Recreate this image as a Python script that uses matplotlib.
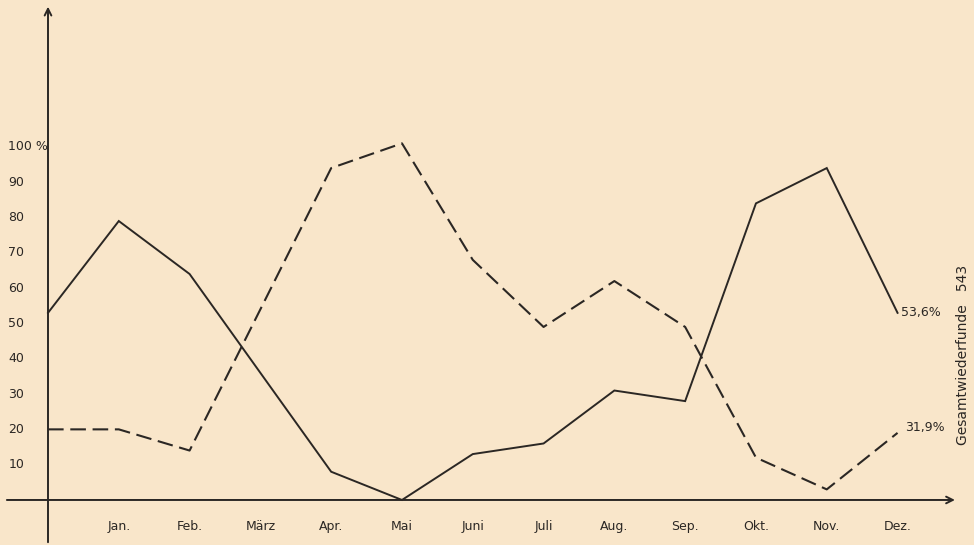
import matplotlib
matplotlib.use("Agg")
import matplotlib.pyplot as plt

months = ["Jan.", "Feb.", "März", "Apr.", "Mai", "Juni", "Juli", "Aug.", "Sep.", "Okt.", "Nov.", "Dez."]
# position 0 = start at the y-axis, 1..12 = months
solid_vals = [53, 79, 64, 36, 8, 0, 13, 16, 31, 28, 84, 94, 53]
dashed_vals = [20, 20, 14, 54, 94, 101, 68, 49, 62, 49, 12, 3, 19]
ytick_vals = [10, 20, 30, 40, 50, 60, 70, 80, 90, 100]
ytick_labels = ["10", "20", "30", "40", "50", "60", "70", "80", "90", "100 %"]
end_labels = ["53,6%", "31,9%"]
side_label = "Gesamtwiederfunde   543"

bg = "#f9e6ca"
ink = "#2b2724"

fig = plt.figure(figsize=(9.74, 5.45), dpi=100, facecolor=bg)
ax = fig.add_axes([0, 0, 1, 1])
ax.set_facecolor(bg)
ax.set_xlim(-0.678, 13.08)
ax.set_ylim(-12.75, 141.6)
ax.axis("off")

xs = list(range(len(solid_vals)))
ax.plot(xs, solid_vals, color=ink, lw=1.4, solid_joinstyle="miter")
ax.plot(xs, dashed_vals, color=ink, lw=1.5, dashes=(7.5, 3.2))

# axes with arrows
ax.annotate("", xy=(12.85, 0), xytext=(-0.62, 0),
            arrowprops=dict(arrowstyle="->", color=ink, lw=1.4, mutation_scale=12))
ax.annotate("", xy=(0, 140.5), xytext=(0, -12.75),
            arrowprops=dict(arrowstyle="->", color=ink, lw=1.4, mutation_scale=12))

fs = 9
for v, lab in zip(ytick_vals, ytick_labels):
    ax.text(-0.56, v, lab, ha="left", va="center", fontsize=fs, color=ink)

for i, m in enumerate(months, start=1):
    ax.text(i, -7.5, m, ha="center", va="center", fontsize=fs, color=ink)

ax.text(12.05, solid_vals[-1], end_labels[0], ha="left", va="center", fontsize=fs, color=ink)
ax.text(12.1, dashed_vals[-1] + 1.5, end_labels[1], ha="left", va="center", fontsize=fs, color=ink)
ax.text(12.92, 41, side_label, ha="center", va="center", rotation=90, fontsize=10, color=ink)

fig.savefig("out.png", dpi=100, facecolor=bg)
